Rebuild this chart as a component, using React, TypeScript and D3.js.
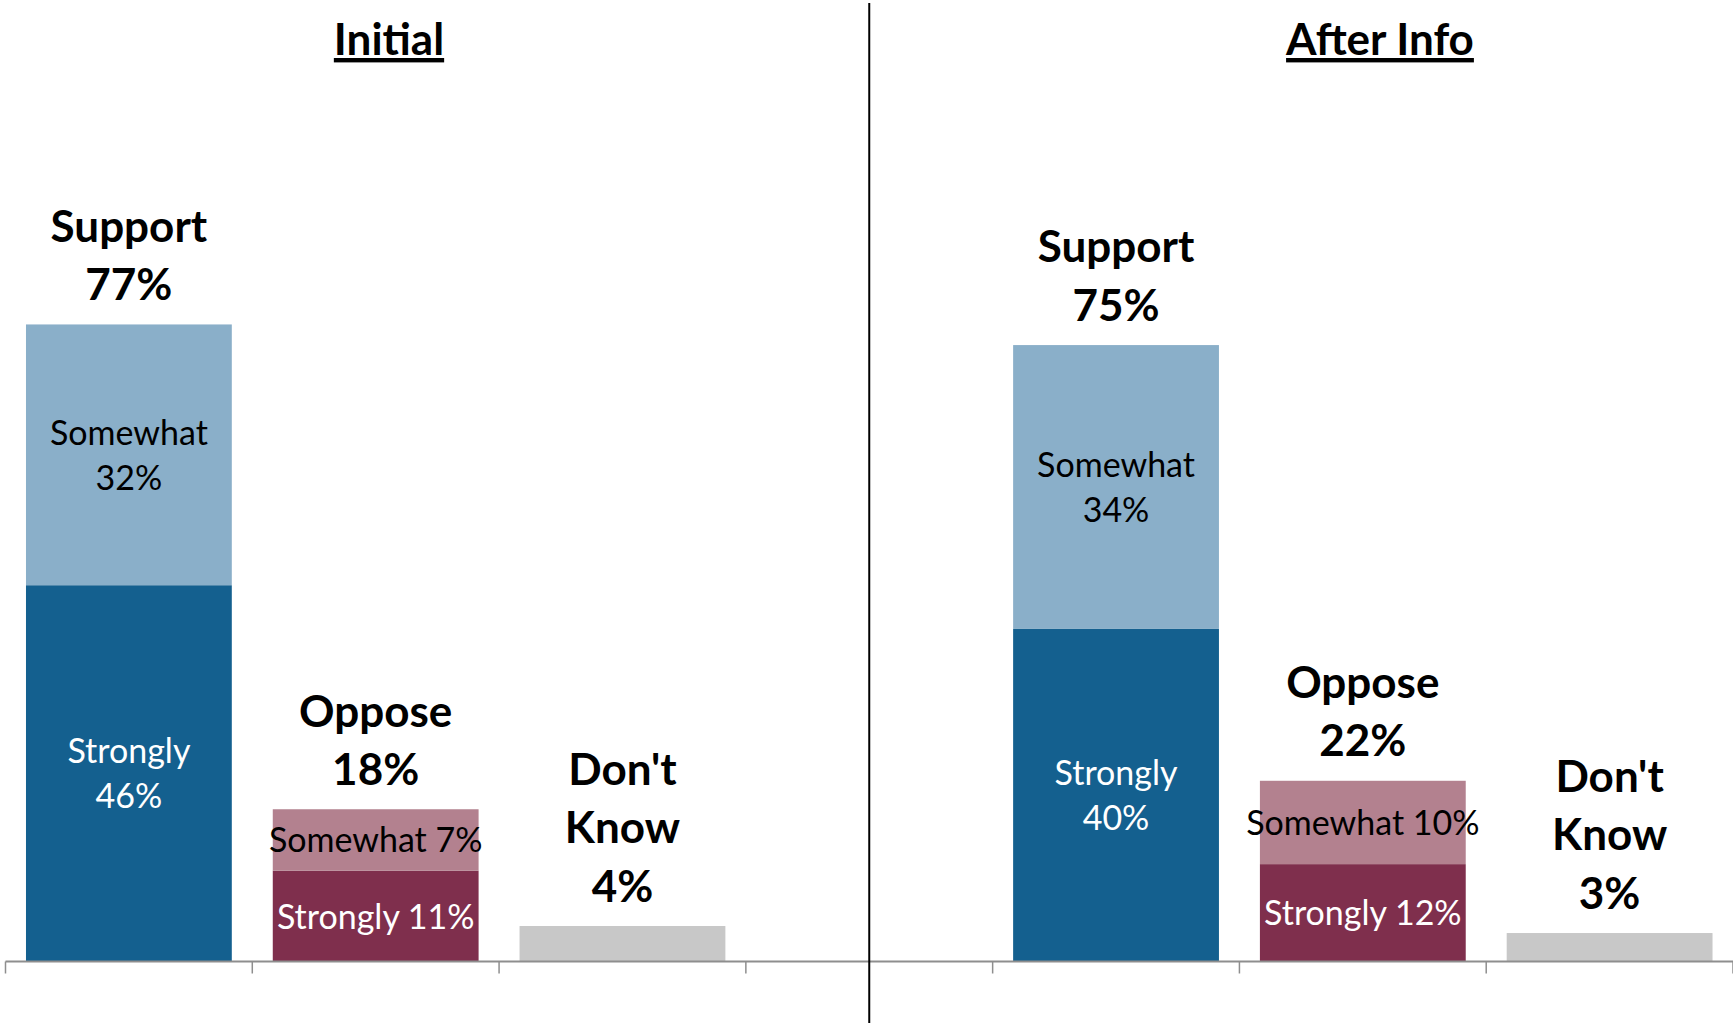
import React, { useEffect } from "react";
import * as d3 from "d3";

// ---- Data (percent) ----
const panels = ["Initial", "After Info"];
const slots = ["Initial|Support", "Initial|Oppose", "Initial|Don't Know", "gap", "After Info|Support", "After Info|Oppose", "After Info|Don't Know"];
const groups = ["Support", "Oppose"];
const stronglyInitial = [45.6, 11.0];
const somewhatInitial = [31.6, 7.45];
const dontKnowInitial = 4.3;
const stronglyAfter = [40.3, 11.8];
const somewhatAfter = [34.4, 10.1];
const dontKnowAfter = 3.45;

const W = 1733;
const H = 1023;
const FONT = "Lato, 'Open Sans', 'DejaVu Sans', sans-serif";

const C_STRONG_SUP = "#14608f";
const C_SOME_SUP = "#8aafc9";
const C_STRONG_OPP = "#7f2f4d";
const C_SOME_OPP = "#b3818f";
const C_DK = "#c8c8c8";
const C_AXIS = "#8e8e8e";

const x = d3.scaleBand<string>().domain(slots).range([5.5, W]).paddingInner(0.166).paddingOuter(0.083);
const y = d3.scaleLinear().domain([0, 100]).range([961.5, 136.3]);

const BOLD = 44;
const REG = 34;
const BOLD_LH = 58.3;
const REG_LH = 45;
const BOLD_GAP = 24.3; // last baseline above bar top
const REG_OFF = 12.5; // baseline below segment centre

const fmt = (v: number) => `${Math.round(v)}%`;

export default function App() {
  useEffect(() => {
    document.body.style.margin = "0";
  }, []);

  const strongly = [stronglyInitial, stronglyAfter];
  const somewhat = [somewhatInitial, somewhatAfter];
  const dk = [dontKnowInitial, dontKnowAfter];

  const marks: React.ReactNode[] = [];
  const labels: React.ReactNode[] = [];

  panels.forEach((p, pi) => {
    groups.forEach((g, gi) => {
      const key = `${p}|${g}`;
      const bx = x(key)!;
      const bw = x.bandwidth();
      const cx = bx + bw / 2;
      const s = strongly[pi][gi];
      const m = somewhat[pi][gi];
      const yS = y(s);
      const yT = y(s + m);
      const isSup = g === "Support";
      marks.push(
        <rect key={key + "s"} x={bx} y={yS} width={bw} height={y(0) - yS} fill={isSup ? C_STRONG_SUP : C_STRONG_OPP} />,
        <rect key={key + "m"} x={bx} y={yT} width={bw} height={yS - yT} fill={isSup ? C_SOME_SUP : C_SOME_OPP} />
      );
      const cS = (y(0) + yS) / 2;
      const cM = (yS + yT) / 2;
      if (isSup) {
        labels.push(
          <text key={key + "ls"} x={cx} textAnchor="middle" fontFamily={FONT} fontSize={REG} fill="#ffffff">
            <tspan x={cx} y={cS + REG_OFF - REG_LH / 2}>Strongly</tspan>
            <tspan x={cx} y={cS + REG_OFF + REG_LH / 2}>{fmt(s)}</tspan>
          </text>,
          <text key={key + "lm"} x={cx} textAnchor="middle" fontFamily={FONT} fontSize={REG} fill="#000000">
            <tspan x={cx} y={cM + REG_OFF - REG_LH / 2}>Somewhat</tspan>
            <tspan x={cx} y={cM + REG_OFF + REG_LH / 2}>{fmt(m)}</tspan>
          </text>
        );
      } else {
        labels.push(
          <text key={key + "ls"} x={cx} y={cS + REG_OFF} textAnchor="middle" fontFamily={FONT} fontSize={REG} fill="#ffffff">
            {`Strongly ${fmt(s)}`}
          </text>,
          <text key={key + "lm"} x={cx} y={cM + REG_OFF} textAnchor="middle" fontFamily={FONT} fontSize={REG} fill="#000000">
            {`Somewhat ${fmt(m)}`}
          </text>
        );
      }
      const lines = [g, fmt(s + m)];
      labels.push(
        <text key={key + "lt"} textAnchor="middle" fontFamily={FONT} fontSize={BOLD} fontWeight="bold" fill="#000000">
          {lines.map((t, i) => (
            <tspan key={i} x={cx} y={yT - BOLD_GAP - (lines.length - 1 - i) * BOLD_LH}>{t}</tspan>
          ))}
        </text>
      );
    });
    // Don't Know
    const key = `${p}|Don't Know`;
    const bx = x(key)!;
    const bw = x.bandwidth();
    const cx = bx + bw / 2;
    const v = dk[pi];
    marks.push(<rect key={key + "d"} x={bx} y={y(v)} width={bw} height={y(0) - y(v)} fill={C_DK} />);
    const lines = ["Don't", "Know", fmt(v)];
    labels.push(
      <text key={key + "lt"} textAnchor="middle" fontFamily={FONT} fontSize={BOLD} fontWeight="bold" fill="#000000">
        {lines.map((t, i) => (
          <tspan key={i} x={cx} y={y(v) - BOLD_GAP - (lines.length - 1 - i) * BOLD_LH}>{t}</tspan>
        ))}
      </text>
    );
  });

  const step = x.step();
  const r0 = x.range()[0];
  const ticks = d3.range(slots.length + 1).map((i) => r0 + i * step);
  const divX = x("gap")! + x.bandwidth() / 2;
  const titleX = [389, 1380];

  return (
    <svg width={W} height={H} style={{ display: "block", background: "#ffffff" }}>
      {marks}
      <line x1={r0} x2={W} y1={y(0)} y2={y(0)} stroke={C_AXIS} strokeWidth={2} />
      {ticks.map((t, i) => (
        <line key={i} x1={t} x2={t} y1={y(0)} y2={y(0) + 12} stroke={C_AXIS} strokeWidth={1.5} />
      ))}
      <line x1={divX} x2={divX} y1={3} y2={H} stroke="#000000" strokeWidth={2} />
      {labels}
      {panels.map((p, i) => (
        <text key={p} x={titleX[i]} y={55} textAnchor="middle" fontFamily={FONT} fontSize={BOLD} fontWeight="bold" fill="#000000" style={{ textDecoration: "underline" }}>
          {p}
        </text>
      ))}
    </svg>
  );
}
